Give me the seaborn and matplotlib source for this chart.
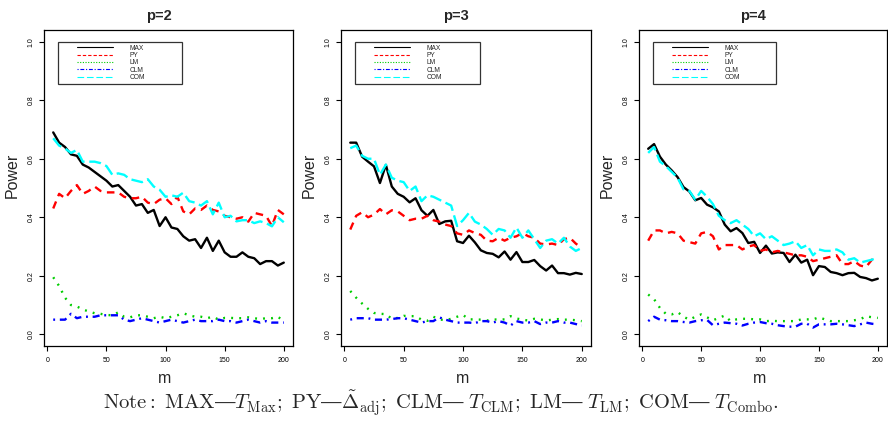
import numpy as np
import pandas as pd
import matplotlib
matplotlib.use("Agg")
import matplotlib.pyplot as plt
import seaborn as sns
from matplotlib.lines import Line2D
from matplotlib.legend_handler import HandlerLine2D

# ---------------- data ----------------
m = list(range(5, 201, 5))
panel_titles = ["p=2", "p=3", "p=4"]
methods = ["MAX", "PY", "LM", "CLM", "COM"]

max_p2 = [0.69, 0.655, 0.64, 0.615, 0.61, 0.58, 0.57, 0.555, 0.54, 0.525,
          0.505, 0.51, 0.49, 0.47, 0.44, 0.445, 0.415, 0.425, 0.37, 0.40,
          0.365, 0.36, 0.335, 0.32, 0.325, 0.295, 0.33, 0.285, 0.32, 0.28,
          0.265, 0.265, 0.28, 0.265, 0.26, 0.24, 0.25, 0.25, 0.235, 0.245]
py_p2 = [0.43, 0.48, 0.465, 0.49, 0.51, 0.48, 0.49, 0.505, 0.49, 0.485,
         0.485, 0.485, 0.47, 0.465, 0.465, 0.47, 0.45, 0.445, 0.46, 0.465,
         0.445, 0.47, 0.42, 0.41, 0.43, 0.425, 0.44, 0.425, 0.42, 0.405,
         0.40, 0.395, 0.40, 0.385, 0.415, 0.41, 0.405, 0.37, 0.425, 0.41]
lm_p2 = [0.195, 0.165, 0.125, 0.10, 0.095, 0.085, 0.078, 0.072, 0.07, 0.066,
         0.065, 0.075, 0.06, 0.058, 0.065, 0.065, 0.06, 0.055, 0.06, 0.055,
         0.06, 0.065, 0.072, 0.065, 0.06, 0.06, 0.055, 0.06, 0.05, 0.056,
         0.056, 0.055, 0.055, 0.058, 0.055, 0.052, 0.055, 0.055, 0.06, 0.045]
clm_p2 = [0.05, 0.05, 0.05, 0.07, 0.055, 0.06, 0.06, 0.06, 0.065, 0.065,
          0.065, 0.065, 0.05, 0.045, 0.05, 0.055, 0.05, 0.045, 0.04, 0.045,
          0.05, 0.045, 0.04, 0.045, 0.05, 0.045, 0.045, 0.045, 0.05, 0.045,
          0.045, 0.04, 0.045, 0.05, 0.045, 0.04, 0.045, 0.04, 0.04, 0.04]
com_p2 = [0.67, 0.645, 0.635, 0.62, 0.63, 0.59, 0.59, 0.59, 0.585, 0.575,
          0.545, 0.55, 0.545, 0.53, 0.525, 0.52, 0.53, 0.505, 0.494, 0.47,
          0.475, 0.47, 0.484, 0.455, 0.45, 0.44, 0.455, 0.41, 0.45, 0.40,
          0.405, 0.386, 0.39, 0.39, 0.38, 0.386, 0.38, 0.369, 0.40, 0.383]

max_p3 = [0.655, 0.655, 0.607, 0.59, 0.574, 0.517, 0.579, 0.505, 0.48, 0.47,
          0.451, 0.465, 0.424, 0.405, 0.425, 0.377, 0.386, 0.388, 0.318, 0.312,
          0.337, 0.314, 0.287, 0.278, 0.275, 0.263, 0.283, 0.255, 0.281, 0.247,
          0.247, 0.254, 0.233, 0.218, 0.235, 0.209, 0.209, 0.204, 0.21, 0.206]
py_p3 = [0.358, 0.405, 0.417, 0.40, 0.409, 0.428, 0.41, 0.424, 0.42, 0.405,
         0.39, 0.395, 0.395, 0.405, 0.39, 0.385, 0.375, 0.37, 0.345, 0.34,
         0.355, 0.346, 0.34, 0.32, 0.318, 0.33, 0.32, 0.33, 0.335, 0.346,
         0.335, 0.33, 0.31, 0.307, 0.31, 0.305, 0.325, 0.33, 0.31, 0.295]
lm_p3 = [0.148, 0.125, 0.105, 0.087, 0.073, 0.07, 0.069, 0.053, 0.056, 0.063,
         0.062, 0.062, 0.05, 0.046, 0.06, 0.051, 0.048, 0.053, 0.06, 0.066,
         0.051, 0.051, 0.05, 0.047, 0.051, 0.05, 0.051, 0.062, 0.054, 0.05,
         0.047, 0.053, 0.051, 0.047, 0.05, 0.052, 0.05, 0.05, 0.048, 0.045]
clm_p3 = [0.05, 0.055, 0.055, 0.055, 0.05, 0.05, 0.05, 0.052, 0.055, 0.055,
          0.05, 0.045, 0.04, 0.045, 0.045, 0.058, 0.05, 0.045, 0.04, 0.04,
          0.04, 0.038, 0.045, 0.045, 0.04, 0.045, 0.04, 0.03, 0.045, 0.04,
          0.04, 0.045, 0.035, 0.04, 0.04, 0.045, 0.04, 0.04, 0.035, 0.03]
com_p3 = [0.636, 0.645, 0.61, 0.60, 0.60, 0.545, 0.58, 0.535, 0.525, 0.52,
          0.49, 0.505, 0.455, 0.475, 0.47, 0.46, 0.45, 0.44, 0.37, 0.39,
          0.415, 0.385, 0.375, 0.36, 0.34, 0.36, 0.355, 0.33, 0.365, 0.33,
          0.355, 0.325, 0.295, 0.32, 0.325, 0.31, 0.33, 0.30, 0.285, 0.295]

max_p4 = [0.634, 0.65, 0.607, 0.58, 0.56, 0.537, 0.503, 0.488, 0.458, 0.466,
          0.443, 0.434, 0.42, 0.375, 0.352, 0.363, 0.346, 0.312, 0.316, 0.278,
          0.303, 0.276, 0.28, 0.278, 0.247, 0.272, 0.245, 0.255, 0.202, 0.233,
          0.23, 0.213, 0.209, 0.202, 0.209, 0.21, 0.196, 0.192, 0.184, 0.19]
py_p4 = [0.32, 0.355, 0.355, 0.345, 0.35, 0.345, 0.32, 0.315, 0.31, 0.345,
         0.35, 0.335, 0.29, 0.305, 0.305, 0.305, 0.29, 0.30, 0.305, 0.285,
         0.29, 0.28, 0.285, 0.28, 0.275, 0.27, 0.27, 0.265, 0.25, 0.255,
         0.26, 0.265, 0.27, 0.24, 0.24, 0.25, 0.235, 0.23, 0.255, 0.262]
lm_p4 = [0.136, 0.12, 0.09, 0.07, 0.068, 0.076, 0.06, 0.05, 0.06, 0.068,
         0.058, 0.048, 0.056, 0.064, 0.045, 0.051, 0.053, 0.053, 0.051, 0.051,
         0.045, 0.046, 0.045, 0.045, 0.045, 0.045, 0.051, 0.051, 0.051, 0.058,
         0.051, 0.045, 0.045, 0.045, 0.045, 0.048, 0.051, 0.062, 0.058, 0.056]
clm_p4 = [0.045, 0.06, 0.05, 0.048, 0.045, 0.045, 0.042, 0.04, 0.045, 0.048,
          0.049, 0.031, 0.036, 0.04, 0.038, 0.036, 0.03, 0.036, 0.04, 0.042,
          0.038, 0.036, 0.031, 0.028, 0.026, 0.026, 0.036, 0.036, 0.023, 0.034,
          0.034, 0.034, 0.036, 0.034, 0.031, 0.028, 0.034, 0.04, 0.036, 0.034]
com_p4 = [0.62, 0.64, 0.59, 0.575, 0.555, 0.535, 0.495, 0.49, 0.46, 0.49,
          0.47, 0.445, 0.405, 0.39, 0.38, 0.39, 0.375, 0.36, 0.335, 0.345,
          0.325, 0.335, 0.32, 0.305, 0.31, 0.318, 0.295, 0.305, 0.27, 0.29,
          0.285, 0.285, 0.29, 0.28, 0.255, 0.26, 0.245, 0.25, 0.255, 0.262]

series = {
    "p=2": {"MAX": max_p2, "PY": py_p2, "LM": lm_p2, "CLM": clm_p2, "COM": com_p2},
    "p=3": {"MAX": max_p3, "PY": py_p3, "LM": lm_p3, "CLM": clm_p3, "COM": com_p3},
    "p=4": {"MAX": max_p4, "PY": py_p4, "LM": lm_p4, "CLM": clm_p4, "COM": com_p4},
}
x_ticks = [0, 50, 100, 150, 200]
y_ticks = [0.0, 0.2, 0.4, 0.6, 0.8, 1.0]
y_ticklabels = ["0.0", "0.2", "0.4", "0.6", "0.8", "1.0"]

rows = []
for p in panel_titles:
    for meth in methods:
        for mi, v in zip(m, series[p][meth]):
            rows.append({"panel": p, "method": meth, "m": mi, "power": v})
df = pd.DataFrame(rows)

# ---------------- styles ----------------
colors = {"MAX": "black", "PY": "#FF0000", "LM": "#00CD00", "CLM": "#0000FF", "COM": "#00FFFF"}
dash = {"MAX": "-", "PY": (0, (3.2, 2.4)), "LM": (0, (0.8, 2.6)),
        "CLM": (0, (0.8, 2.0, 3.0, 2.0)), "COM": (0, (5.0, 2.0))}
dash_leg = {"MAX": "-", "PY": (0, (3.0, 1.8)), "LM": (0, (1.0, 1.4)),
            "CLM": (0, (1.0, 1.6, 3.5, 1.6)), "COM": (0, (6.0, 2.5))}

sns.set_style("white")
plt.rcParams["font.family"] = ["Liberation Sans", "DejaVu Sans"]
plt.rcParams["mathtext.fontset"] = "cm"

W, H = 888, 421
fig = plt.figure(figsize=(W / 100, H / 100), dpi=100)
lefts = [44, 341, 639]
widths = [249, 250, 248]
bottom_px, height_px = 75, 316

for i, p in enumerate(panel_titles):
    ax = fig.add_axes([lefts[i] / W, bottom_px / H, widths[i] / W, height_px / H])
    sub = df[df["panel"] == p]
    for meth in methods:
        d = sub[sub["method"] == meth]
        sns.lineplot(data=d, x="m", y="power", ax=ax, color=colors[meth],
                     linestyle=dash[meth], linewidth=1.7, estimator=None,
                     legend=False)
    ax.set_xlim(-2.8, 207.8)
    ax.set_ylim(-0.04, 1.04)
    ax.set_xticks(x_ticks)
    ax.set_xticklabels([str(t) for t in x_ticks])
    ax.set_yticks(y_ticks)
    ax.set_yticklabels(y_ticklabels, rotation=90, va="center")
    ax.tick_params(axis="both", direction="out", length=3.5, width=0.8,
                   labelsize=5, colors="black", left=True, bottom=True)
    ax.tick_params(axis="x", pad=4.5)
    ax.tick_params(axis="y", pad=3.5)
    for s in ax.spines.values():
        s.set_visible(True)
        s.set_color("black")
        s.set_linewidth(0.9)
    ax.set_xlabel("m", fontsize=11.5)
    ax.set_ylabel("Power", fontsize=11.5, va="center")
    ax.xaxis.set_label_coords(0.485, -0.08)
    ax.yaxis.set_label_coords(-0.128, 0.541)
    ax.set_title(p, fontsize=10.5, fontweight="bold", x=0.46, y=1.0, pad=7.5)

    handles = [Line2D([], [], color=colors[k], linestyle=dash_leg[k], linewidth=0.8)
               for k in methods]
    fs = 4.8
    fpx = fs * 100 / 72
    leg = ax.legend(handles, methods, loc="upper left",
                    bbox_to_anchor=(0.056, 0.816, 0.498, 0.146), mode="expand",
                    borderaxespad=0, fontsize=fs, frameon=True, fancybox=False,
                    borderpad=0.4, handlelength=52.2 / fpx, handletextpad=17 / fpx,
                    labelspacing=0.05,
                    handler_map={Line2D: HandlerLine2D(xpad=16.2 / fpx)})
    leg.get_frame().set_edgecolor("black")
    leg.get_frame().set_linewidth(0.9)

note = (r"$\mathrm{Note{:}\ MAX—}T_{\mathrm{Max}}\mathrm{;\ PY—}\tilde{\Delta}_{\mathrm{adj}}"
        r"\mathrm{;\ CLM—\ }T_{\mathrm{CLM}}\mathrm{;\ LM—\ }T_{\mathrm{LM}}"
        r"\mathrm{;\ COM—\ }T_{\mathrm{Combo}}\mathrm{.}$")
fig.text(441 / W, 1 - 403 / H, note, ha="center", va="center", fontsize=14.8)

fig.savefig("out.png", dpi=100)
